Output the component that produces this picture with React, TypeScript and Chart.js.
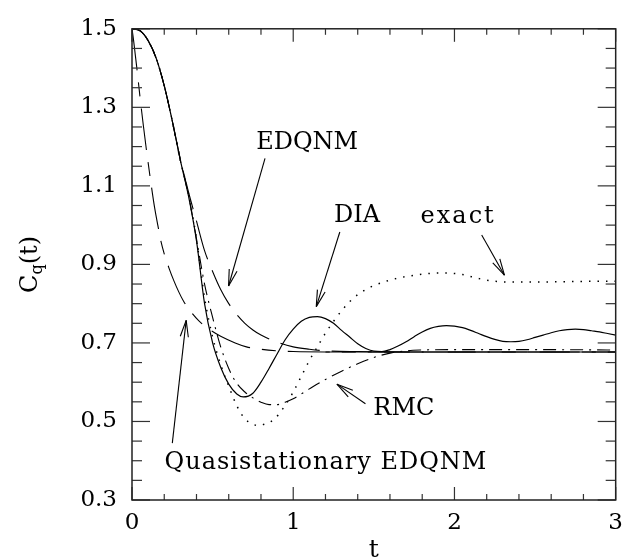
import React, { useEffect, useRef } from "react";
import { Chart, registerables } from "chart.js";

Chart.register(...registerables);

// ---- axes ----
const xTickValues = [0, 1, 2, 3];
const yTickValues = [0.3, 0.5, 0.7, 0.9, 1.1, 1.3, 1.5];

// ---- DIA (solid) ----
const diaT = [0, 0.05, 0.1, 0.15, 0.2, 0.25, 0.3, 0.35, 0.4, 0.45, 0.5, 0.55, 0.6, 0.65, 0.69, 0.75, 0.8, 0.85, 0.9, 0.95, 1.0, 1.05, 1.1, 1.15, 1.2, 1.25, 1.3, 1.35, 1.4, 1.45, 1.5, 1.55, 1.6, 1.65, 1.7, 1.75, 1.8, 1.85, 1.9, 1.95, 2.0, 2.05, 2.1, 2.15, 2.2, 2.25, 2.3, 2.35, 2.4, 2.45, 2.5, 2.55, 2.6, 2.65, 2.7, 2.75, 2.8, 2.85, 2.9, 2.95, 3.0];
const diaC = [1.5, 1.495, 1.47, 1.425, 1.355, 1.265, 1.165, 1.075, 0.96, 0.8, 0.7, 0.638, 0.595, 0.57, 0.5625, 0.572, 0.6, 0.635, 0.672, 0.708, 0.735, 0.755, 0.765, 0.767, 0.762, 0.75, 0.732, 0.715, 0.698, 0.686, 0.679, 0.678, 0.683, 0.692, 0.703, 0.716, 0.728, 0.737, 0.742, 0.744, 0.743, 0.739, 0.732, 0.724, 0.716, 0.709, 0.704, 0.703, 0.704, 0.708, 0.714, 0.72, 0.726, 0.731, 0.734, 0.735, 0.734, 0.731, 0.728, 0.724, 0.72];

// ---- exact (dotted) ----
const exactT = [0, 0.05, 0.1, 0.15, 0.2, 0.25, 0.3, 0.35, 0.4, 0.45, 0.5, 0.55, 0.6, 0.65, 0.7, 0.75, 0.78, 0.82, 0.88, 0.94, 1.0, 1.05, 1.1, 1.15, 1.2, 1.25, 1.3, 1.35, 1.4, 1.45, 1.5, 1.6, 1.7, 1.8, 1.9, 1.95, 2.05, 2.15, 2.25, 2.35, 2.5, 2.7, 2.85, 3.0];
const exactC = [1.5, 1.495, 1.47, 1.425, 1.355, 1.265, 1.165, 1.08, 0.965, 0.815, 0.715, 0.645, 0.59, 0.54, 0.507, 0.493, 0.49, 0.493, 0.505, 0.535, 0.575, 0.615, 0.655, 0.69, 0.725, 0.755, 0.782, 0.805, 0.823, 0.836, 0.846, 0.86, 0.869, 0.875, 0.878, 0.878, 0.874, 0.864, 0.857, 0.855, 0.855, 0.856, 0.857, 0.857];

// ---- EDQNM (long dash) ----
const edqT = [0, 0.05, 0.1, 0.15, 0.2, 0.25, 0.3, 0.35, 0.4, 0.45, 0.5, 0.55, 0.6, 0.65, 0.7, 0.75, 0.8, 0.9, 1.0, 1.1, 1.2, 1.4, 1.7, 3.0];
const edqC = [1.5, 1.495, 1.47, 1.425, 1.355, 1.265, 1.168, 1.085, 1.01, 0.935, 0.882, 0.836, 0.8, 0.772, 0.75, 0.733, 0.72, 0.702, 0.69, 0.684, 0.68, 0.678, 0.677, 0.677];

// ---- Quasistationary EDQNM (long-short dash) ----
const qT = [0, 0.01, 0.02, 0.03, 0.05, 0.07, 0.09, 0.12, 0.14, 0.16, 0.18, 0.2, 0.23, 0.26, 0.29, 0.32, 0.36, 0.415, 0.5, 0.55, 0.64, 0.71, 0.8, 0.9, 1.0, 1.2, 3.0];
const qC = [1.5, 1.47, 1.435, 1.4, 1.325, 1.255, 1.19, 1.1, 1.045, 1.0, 0.958, 0.927, 0.89, 0.858, 0.83, 0.806, 0.782, 0.756, 0.729, 0.717, 0.7, 0.69, 0.684, 0.68, 0.678, 0.677, 0.677];

// ---- RMC (dash-dot) ----
const rmcT = [0, 0.05, 0.1, 0.15, 0.2, 0.25, 0.3, 0.35, 0.4, 0.45, 0.5, 0.55, 0.6, 0.65, 0.7, 0.75, 0.8, 0.85, 0.9, 0.95, 1.0, 1.1, 1.2, 1.3, 1.4, 1.5, 1.6, 1.7, 1.8, 2.0, 2.5, 3.0];
const rmcC = [1.5, 1.495, 1.47, 1.425, 1.355, 1.265, 1.165, 1.078, 0.965, 0.85, 0.765, 0.69, 0.635, 0.597, 0.575, 0.56, 0.549, 0.543, 0.543, 0.549, 0.558, 0.583, 0.607, 0.628, 0.647, 0.663, 0.674, 0.68, 0.682, 0.683, 0.683, 0.682];

// ---- asymptotic level (solid) ----
const asymT = [1.2, 3.0];
const asymC = [0.677, 0.677];

// ---- annotations (data coordinates) ----
const labelTexts = ["EDQNM", "DIA", "exact", "RMC", "Quasistationary EDQNM"];
const labelT = [0.77, 1.253, 1.79, 1.497, 0.2016];
const labelC = [1.195, 1.0075, 1.005, 0.5175, 0.38];
const labelSpacing = [0, 0, 2, 0, 1];
const arrowFromT = [0.825, 1.289, 2.169, 1.448, 0.25];
const arrowFromC = [1.17, 0.9825, 0.975, 0.545, 0.445];
const arrowToT = [0.599, 1.143, 2.31, 1.271, 0.336];
const arrowToC = [0.845, 0.7925, 0.8725, 0.595, 0.7575];

const FONT = "'DejaVu Serif', 'Liberation Serif', serif";

const pts = (ts: number[], cs: number[]) => ts.map((t, i) => ({ x: t, y: cs[i] }));

const decorPlugin = {
  id: "decor",
  afterDraw(chart: any) {
    const { ctx, chartArea: a, scales } = chart;
    const xs = scales.x;
    const ys = scales.y;
    ctx.save();
    const seg = (x1: number, y1: number, x2: number, y2: number) => {
      ctx.beginPath();
      ctx.moveTo(x1, y1);
      ctx.lineTo(x2, y2);
      ctx.stroke();
    };
    // ticks
    ctx.strokeStyle = "#333";
    ctx.lineWidth = 1.2;
    for (let k = 0; k <= 24; k++) {
      const v = 0.3 + k * 0.05;
      const py = ys.getPixelForValue(v);
      const len = k % 4 === 0 ? 18 : 10;
      seg(a.left, py, a.left + len, py);
      seg(a.right, py, a.right - len, py);
    }
    for (let k = 0; k <= 15; k++) {
      const t = k * 0.2;
      const px = xs.getPixelForValue(t);
      const len = k % 5 === 0 ? 13 : 6;
      seg(px, a.bottom, px, a.bottom - len);
      seg(px, a.top, px, a.top + len);
    }
    // frame
    ctx.strokeStyle = "#222";
    ctx.lineWidth = 1.5;
    ctx.strokeRect(a.left, a.top, a.right - a.left, a.bottom - a.top);

    // axis titles
    ctx.fillStyle = "#000";
    ctx.textBaseline = "alphabetic";
    ctx.textAlign = "center";
    ctx.font = `25px ${FONT}`;
    ctx.fillText("t", (a.left + a.right) / 2, a.bottom + 57);

    ctx.save();
    ctx.translate(a.left - 95, (a.top + a.bottom) / 2);
    ctx.rotate(-Math.PI / 2);
    ctx.textAlign = "left";
    ctx.font = `24px ${FONT}`;
    const wC = ctx.measureText("C").width;
    const wP = ctx.measureText("(t)").width;
    ctx.font = `16px ${FONT}`;
    const wq = ctx.measureText("q").width;
    const total = wC + wq + wP;
    let x0 = -total / 2;
    ctx.font = `24px ${FONT}`;
    ctx.fillText("C", x0, 0);
    x0 += wC;
    ctx.font = `16px ${FONT}`;
    ctx.fillText("q", x0, 5);
    x0 += wq;
    ctx.font = `24px ${FONT}`;
    ctx.fillText("(t)", x0, 0);
    ctx.restore();

    // annotations
    ctx.font = `24px ${FONT}`;
    ctx.textAlign = "left";
    ctx.textBaseline = "alphabetic";
    labelTexts.forEach((txt, i) => {
      (ctx as any).letterSpacing = `${labelSpacing[i]}px`;
      ctx.fillText(txt, xs.getPixelForValue(labelT[i]), ys.getPixelForValue(labelC[i]));
    });
    (ctx as any).letterSpacing = "0px";
    ctx.strokeStyle = "#000";
    ctx.lineWidth = 1.1;
    arrowFromT.forEach((_, i) => {
      const x1 = xs.getPixelForValue(arrowFromT[i]);
      const y1 = ys.getPixelForValue(arrowFromC[i]);
      const x2 = xs.getPixelForValue(arrowToT[i]);
      const y2 = ys.getPixelForValue(arrowToC[i]);
      seg(x1, y1, x2, y2);
      const ang = Math.atan2(y1 - y2, x1 - x2);
      const hl = 17;
      const spread = 0.24;
      seg(x2, y2, x2 + hl * Math.cos(ang + spread), y2 + hl * Math.sin(ang + spread));
      seg(x2, y2, x2 + hl * Math.cos(ang - spread), y2 + hl * Math.sin(ang - spread));
    });
    ctx.restore();
  },
};

export default function App() {
  const ref = useRef<HTMLCanvasElement | null>(null);
  useEffect(() => {
    if (!ref.current) return;
    const common = {
      pointRadius: 0,
      borderColor: "#000",
      fill: false,
      cubicInterpolationMode: "monotone" as const,
    };
    const chart = new Chart(ref.current, {
      type: "line",
      data: {
        datasets: [
          { ...common, label: "DIA", data: pts(diaT, diaC), borderWidth: 1.2 },
          { ...common, label: "exact", data: pts(exactT, exactC), borderWidth: 1.5, borderDash: [1.5, 7] },
          { ...common, label: "EDQNM", data: pts(edqT, edqC), borderWidth: 1.1, borderDash: [40, 12] },
          { ...common, label: "Quasistationary EDQNM", data: pts(qT, qC), borderWidth: 1.1, borderDash: [42, 12, 14, 12] },
          { ...common, label: "RMC", data: pts(rmcT, rmcC), borderWidth: 1.1, borderDash: [13, 6, 2, 6] },
          { ...common, label: "asymptote", data: pts(asymT, asymC), borderWidth: 1.1 },
        ],
      },
      options: {
        animation: false,
        responsive: false,
        layout: { padding: { left: 0, top: 20, right: 9, bottom: 0 } },
        plugins: { legend: { display: false }, tooltip: { enabled: false } },
        scales: {
          x: {
            type: "linear",
            min: 0,
            max: 3,
            afterBuildTicks: (s: any) => {
              s.ticks = xTickValues.map((v) => ({ value: v }));
            },
            afterFit: (s: any) => {
              s.height = 58;
            },
            ticks: { color: "#000", font: { family: FONT, size: 23 }, padding: 9, maxRotation: 0, autoSkip: false },
            grid: { display: false, drawTicks: false },
            border: { display: false },
          },
          y: {
            type: "linear",
            min: 0.3,
            max: 1.5,
            afterBuildTicks: (s: any) => {
              s.ticks = yTickValues.map((v) => ({ value: v }));
            },
            afterFit: (s: any) => {
              s.width = 132;
            },
            ticks: {
              color: "#000",
              font: { family: FONT, size: 23 },
              padding: 15,
              autoSkip: false,
              callback: (v: any) => Number(v).toFixed(1),
            },
            grid: { display: false, drawTicks: false },
            border: { display: false },
          },
        },
      },
      plugins: [decorPlugin],
    });
    return () => chart.destroy();
  }, []);
  return (
    <div style={{ position: "fixed", left: 0, top: 0, width: 632, height: 558, background: "#fff" }}>
      <canvas ref={ref} width={632} height={558} style={{ display: "block" }} />
    </div>
  );
}
